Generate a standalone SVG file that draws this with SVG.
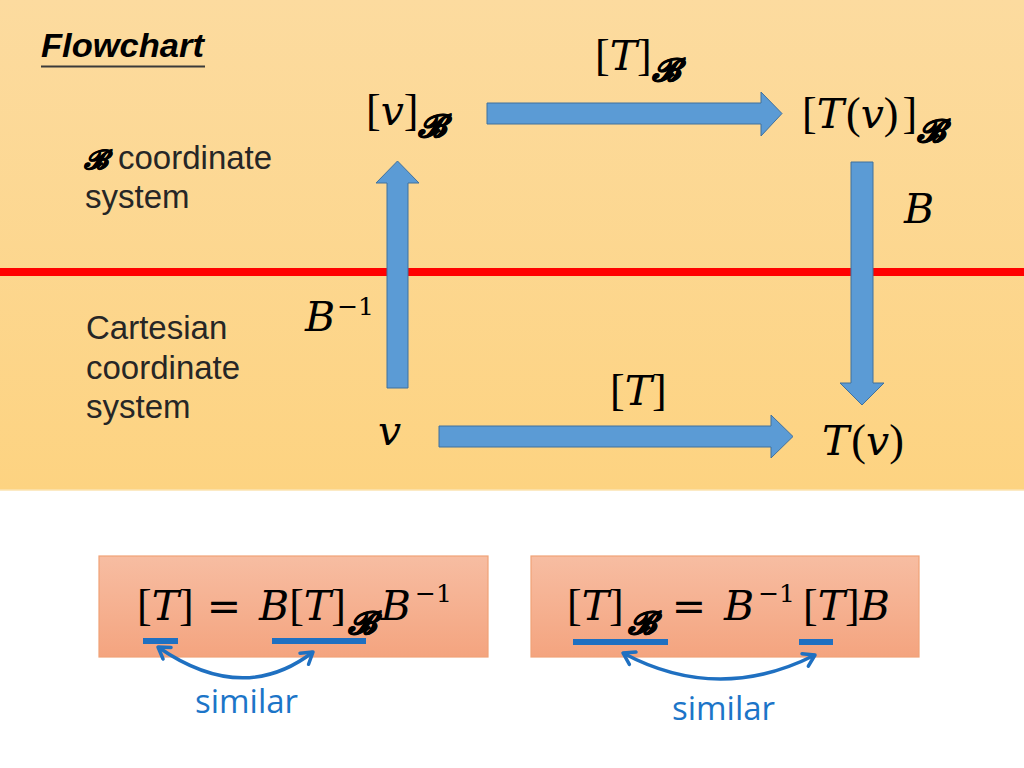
<svg xmlns="http://www.w3.org/2000/svg" width="1024" height="768" viewBox="0 0 1024 768">
<style>
.m{font-family:"DejaVu Serif","Liberation Serif",serif;font-size:41px;fill:#000}
.i{font-style:italic}
.br{font-family:"Liberation Serif",serif;font-size:44px;font-style:normal}
.s{font-size:25px}
.cal{font-family:"DejaVu Serif",serif;font-size:32px;font-weight:bold;font-style:italic;stroke:#000;stroke-width:0.6}
.lbl{font-family:"Liberation Sans",Arial,sans-serif;font-size:33px;fill:#262626}
.arr{fill:#5b9bd5;stroke:#41719c;stroke-width:1}
.sim{font-family:"Open Sans","Liberation Sans",sans-serif;font-size:33px;fill:#1c75c8}
.ul{fill:#1f70c1}
.curve{fill:none;stroke:#1f70c1;stroke-width:3.5;marker-start:url(#chev);marker-end:url(#chev)}
.box{stroke:#f0a277;stroke-width:1.2;fill:url(#boxg)}
</style>
<defs>
<linearGradient id="bg" x1="0" y1="0" x2="0" y2="1">
<stop offset="0" stop-color="#fcdb9f"/>
<stop offset="1" stop-color="#fdd381"/>
</linearGradient>
<linearGradient id="boxg" x1="0" y1="0" x2="0" y2="1">
<stop offset="0" stop-color="#f7bda2"/>
<stop offset="1" stop-color="#f4a47f"/>
</linearGradient>
<marker id="chev" markerUnits="userSpaceOnUse" markerWidth="18" markerHeight="18" viewBox="0 0 18 18" refX="15" refY="9" orient="auto-start-reverse">
<path d="M4,2 L15,9 L4,16" fill="none" stroke="#1f70c1" stroke-width="3.5" stroke-linecap="round" stroke-linejoin="round"/>
</marker>
</defs>
<rect x="0" y="0" width="1024" height="768" fill="#ffffff"/>
<rect x="0" y="0" width="1024" height="490" fill="url(#bg)"/>
<line x1="0" y1="490" x2="1024" y2="490" stroke="#fbe3b0" stroke-width="1.5"/>
<rect x="0" y="268" width="1024" height="8" fill="#ff0000"/>

<g id="title">
<text x="41" y="57" font-family="Liberation Sans,Arial,sans-serif" font-size="33" font-weight="bold" font-style="italic" fill="#000" textLength="163" lengthAdjust="spacingAndGlyphs">Flowchart</text>
<rect x="41" y="65.5" width="164" height="2" fill="#3a3a3a"/>
</g>
<g id="label-b-system">
<text class="cal" x="84" y="169" style="font-size:27px;stroke-width:0.5">𝓑</text>
<text class="lbl" x="118" y="169">coordinate</text>
<text class="lbl" x="85" y="208">system</text>
</g>
<g id="label-cartesian">
<text class="lbl" x="86" y="339">Cartesian</text>
<text class="lbl" x="86" y="379">coordinate</text>
<text class="lbl" x="86" y="418">system</text>
</g>

<g id="connectors">
<polygon class="arr" points="487,103 761,103 761,92 782,113.5 761,136 761,124 487,124"/>
<polygon class="arr" points="387,388 387,183 376,183 397.5,161 419,183 408,183 408,388"/>
<polygon class="arr" points="851,162 873,162 873,383 884,383 862,405 840,383 851,383"/>
<polygon class="arr" points="439,426 771,426 771,415 793,436.5 771,458 771,447 439,447"/>
</g>

<g id="node-vB">
<text class="m" x="366" y="125"><tspan class="br">[</tspan><tspan class="i">v</tspan><tspan class="br">]</tspan><tspan class="cal" y="137">𝓑</tspan></text>
</g>
<g id="label-TB">
<text class="m" x="595" y="70"><tspan class="br">[</tspan><tspan class="i">T</tspan><tspan class="br">]</tspan><tspan class="cal" y="81">𝓑</tspan></text>
</g>
<g id="node-TvB">
<text class="m" x="802" y="128"><tspan class="br">[</tspan><tspan class="i">T</tspan><tspan class="br" dx="2">(</tspan><tspan class="i">v</tspan><tspan class="br">)</tspan><tspan class="br" dx="4">]</tspan><tspan class="cal" y="142">𝓑</tspan></text>
</g>
<g id="label-B">
<text class="m i" x="904" y="223">B</text>
</g>
<g id="label-Binv">
<text class="m" x="305" y="331"><tspan class="i">B</tspan><tspan class="s" dx="2" y="315">−1</tspan></text>
</g>
<g id="node-v">
<text class="m i" x="378" y="445">v</text>
</g>
<g id="label-T">
<text class="m" x="610" y="405"><tspan class="br">[</tspan><tspan class="i">T</tspan><tspan class="br">]</tspan></text>
</g>
<g id="node-Tv">
<text class="m" x="822" y="455"><tspan class="i">T</tspan><tspan class="br" dx="2">(</tspan><tspan class="i">v</tspan><tspan class="br">)</tspan></text>
</g>

<g id="eq-left">
<rect class="box" x="99" y="556" width="389" height="101"/>
<text class="m" x="137" y="620"><tspan class="br">[</tspan><tspan class="i">T</tspan><tspan class="br">]</tspan><tspan dx="13">=</tspan><tspan class="i" dx="18">B</tspan><tspan class="br">[</tspan><tspan class="i">T</tspan><tspan class="br">]</tspan><tspan class="cal" dx="2" y="634">𝓑</tspan><tspan class="i" dx="5" y="620">B</tspan><tspan class="s" dx="4" y="602">−1</tspan></text>
<rect class="ul" x="143" y="638" width="35" height="6"/>
<rect class="ul" x="272" y="638" width="94" height="6"/>
<path class="curve" d="M158,647 Q243,706 313,652"/>
<text class="sim" x="195" y="713">similar</text>
</g>

<g id="eq-right">
<rect class="box" x="531" y="556" width="388" height="101"/>
<text class="m" x="567" y="620"><tspan class="br">[</tspan><tspan class="i">T</tspan><tspan class="br">]</tspan><tspan class="cal" dx="4" y="634">𝓑</tspan><tspan dx="16" y="620">=</tspan><tspan class="i" dx="18">B</tspan><tspan class="s" dx="4" y="602">−1</tspan><tspan class="br" dx="8" y="620">[</tspan><tspan class="i">T</tspan><tspan class="br">]</tspan><tspan class="i">B</tspan></text>
<rect class="ul" x="573" y="639" width="95" height="6"/>
<rect class="ul" x="799" y="639" width="34" height="6"/>
<path class="curve" d="M623,653 Q718,704 815,655"/>
<text class="sim" x="672" y="720">similar</text>
</g>
</svg>
